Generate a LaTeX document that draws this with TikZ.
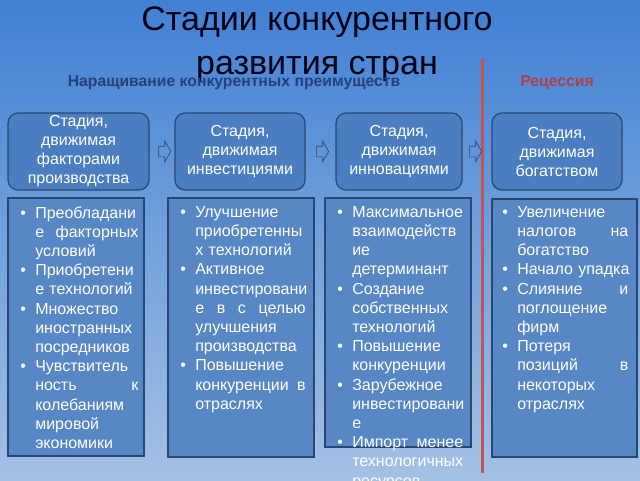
\documentclass[tikz,border=0pt]{standalone}
\usepackage{fontspec}
\setmainfont{Liberation Sans}
\usetikzlibrary{shapes.arrows,calc}

\definecolor{bgtop}{RGB}{64,128,212}
\definecolor{bgbot}{RGB}{164,193,228}
\definecolor{stagefill}{RGB}{74,126,193}
\definecolor{listfill}{RGB}{88,135,197}
\definecolor{boxline}{RGB}{44,70,116}
\definecolor{growblue}{RGB}{36,66,118}
\definecolor{recred}{RGB}{172,62,74}
\definecolor{cutline}{RGB}{196,84,84}
\definecolor{arrfill}{RGB}{98,148,216}

\hyphenpenalty=10000
\exhyphenpenalty=10000
\newcommand{\bl}{\makebox[11.25pt][l]{\textbullet}}
\newcommand{\ind}{\hspace*{11.25pt}}

\tikzset{
  stagebox/.style={draw=boxline, line width=0.9pt, fill=stagefill, rounded corners=7.5pt,
    text=white, align=center, minimum height=57.75pt, inner sep=0pt,
    font=\fontsize{12}{14.25}\selectfont},
  listbox/.style={draw=boxline, line width=1.1pt, fill=listfill},
  listtext/.style={anchor=north west, inner sep=0pt, text=white, align=left,
    font=\fontsize{12}{14.4}\selectfont},
  stagearrow/.style={single arrow, draw=boxline, fill=arrfill, line width=0.5pt,
    minimum height=9pt, inner xsep=0pt, inner ysep=3.75pt,
    single arrow head extend=3.75pt, single arrow tip angle=120}
}

\begin{document}
\begin{tikzpicture}[x=0.75pt,y=0.75pt,yscale=-1,xscale=1]
\useasboundingbox (0,0) rectangle (640,480);
\clip (0,0) rectangle (640,480);

%Background
\shade[top color=bgtop, bottom color=bgbot] (0,0) rectangle (640,480);

% Text Node
\node[anchor=north, align=center, inner sep=0pt, text=black!92!blue,
  font=\fontsize{25.5}{33}\selectfont] (title) at (317,6) {Стадии конкурентного\\развития стран};
% Text Node
\node[anchor=base, inner sep=0pt, text=growblue, font=\fontsize{11.8}{14}\selectfont\bfseries]
  (grow) at (234,86) {Наращивание конкурентных преимуществ};
% Text Node
\node[anchor=base, inner sep=0pt, text=recred, font=\fontsize{11.8}{14}\selectfont\bfseries]
  (recess) at (557,86) {Рецессия};

%Line: border of recession
\draw[cutline, line width=2.25pt] (482,58) -- (482,473);

%Stages
\node[stagebox, minimum width=105.75pt] (h1) at (78.5,151.5) {Стадия,\\движимая\\факторами\\производства};
\node[stagebox, minimum width=97.5pt] (h2) at (240,151.5) {Стадия,\\движимая\\инвестициями};
\node[stagebox, minimum width=94.5pt] (h3) at (399,151.5) {Стадия,\\движимая\\инновациями};
\node[stagebox, minimum width=97.5pt] (h4) at (557,151.5) {Стадия,\\движимая\\богатством};

%Right Arrows
\node[stagearrow] (a1) at ($(h1.east)!0.55!(h2.west)$) {};
\node[stagearrow] (a2) at ($(h2.east)!0.52!(h3.west)$) {};
\node[stagearrow] (a3) at ($(h3.east)!0.4!(h4.west)$) {};

%Shape: Rectangle
\draw[listbox] (8,198) rectangle (144,456);
%Shape: Rectangle
\draw[listbox] (168,198) rectangle (314,457);
%Shape: Rectangle
\draw[listbox] (325,198) rectangle (471,447);
%Shape: Rectangle
\draw[listbox] (492,199) rectangle (637,457);

% Text Node
\node[listtext, text width=88.5pt] (l1) at (20,206) {\bl Преобладани\\
\ind е\hfill факторных\\
\ind условий\\
\bl Приобретени\\
\ind е технологий\\
\bl Множество\\
\ind иностранных\\
\ind посредников\\
\bl Чувствитель\\
\ind ность\hfill к\\
\ind колебаниям\\
\ind мировой\\
\ind экономики};
% Text Node
\node[listtext, text width=94pt] (l2) at (180,206) {\bl Улучшение\\
\ind приобретенны\\
\ind х технологий\\
\bl Активное\\
\ind инвестировани\\
\ind е\hfill в\hfill с\hfill целью\\
\ind улучшения\\
\ind производства\\
\bl Повышение\\
\ind конкуренции\hfill в\\
\ind отраслях};
% Text Node
\node[listtext, text width=94.5pt] (l3) at (337,206) {\bl Максимальное\\
\ind взаимодейств\\
\ind ие\\
\ind детерминант\\
\bl Создание\\
\ind собственных\\
\ind технологий\\
\bl Повышение\\
\ind конкуренции\\
\bl Зарубежное\\
\ind инвестировани\\
\ind е\\
\bl Импорт\hfill менее\\
\ind технологичных\\
\ind ресурсов};
% Text Node
\node[listtext, text width=94.5pt] (l4) at (502,206) {\bl Увеличение\\
\ind налогов\hfill на\\
\ind богатство\\
\bl \mbox{Начало упадка}\\
\bl Слияние\hfill и\\
\ind поглощение\\
\ind фирм\\
\bl Потеря\\
\ind позиций\hfill в\\
\ind некоторых\\
\ind отраслях};

\end{tikzpicture}
\end{document}
